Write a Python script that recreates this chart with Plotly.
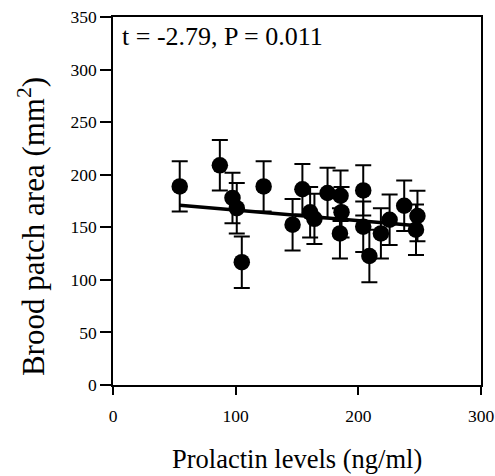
import plotly.graph_objects as go

# Data
prolactin = [54.4, 87.1, 97.4, 100.9, 105.0, 122.8, 146.4, 154.4, 160.7, 164.2, 174.9,
             185.5, 186.3, 185.0, 204.0, 204.0, 209.0, 218.4, 225.5, 237.4, 247.0, 248.2]
patch_area = [188.9, 208.9, 177.9, 168.2, 116.8, 188.9, 152.5, 186.2, 164.2, 158.0, 182.6,
              180.0, 164.4, 144.2, 185.1, 150.6, 122.7, 144.2, 157.2, 170.5, 147.7, 160.7]
patch_err = [24, 24, 24, 24, 24.5, 24, 24.5, 24, 24, 24, 24,
             24, 24, 24, 24, 24, 25, 24, 24, 24, 24, 24]
fit_x = [54.4, 248.2]
fit_y = [171.0, 151.4]
x_ticks = [0, 100, 200, 300]
y_ticks = [0, 50, 100, 150, 200, 250, 300, 350]
stat_text = "t = -2.79, P = 0.011"
x_title = "Prolactin levels (ng/ml)"
y_title = "Brood patch area (mm<sup>2</sup>)"

FONT = "Tinos"

fig = go.Figure()
fig.add_trace(go.Scatter(
    x=fit_x, y=fit_y, mode="lines",
    line=dict(color="black", width=3.5), showlegend=False, hoverinfo="skip"))
fig.add_trace(go.Scatter(
    x=prolactin, y=patch_area, mode="markers",
    marker=dict(color="black", size=16.5),
    error_y=dict(type="data", array=patch_err, visible=True,
                 color="black", thickness=2, width=8),
    showlegend=False))

fig.update_layout(
    width=495, height=476,
    margin=dict(l=113, r=14, t=17, b=91),
    paper_bgcolor="white", plot_bgcolor="white",
    font=dict(family=FONT, color="black", size=17),
    xaxis=dict(range=[0, 300], tickvals=x_ticks, ticks="outside", ticklen=8,
               tickwidth=1.5, tickcolor="black", showline=True, linecolor="black",
               linewidth=1.5, mirror=True, showgrid=False, zeroline=False,
               automargin=False, ticklabeloverflow="allow",
               tickfont=dict(size=17.5, family=FONT), ticklabelstandoff=6),
    yaxis=dict(range=[0, 350], tickvals=y_ticks, ticks="outside", ticklen=11,
               tickwidth=1.5, tickcolor="black", showline=True, linecolor="black",
               linewidth=1.5, mirror=True, showgrid=False, zeroline=False,
               automargin=False, ticklabeloverflow="allow",
               tickfont=dict(size=17.5, family=FONT)),
    annotations=[
        dict(text=stat_text, xref="paper", yref="paper", x=0.018, y=0.946,
             xanchor="left", yanchor="middle", showarrow=False,
             font=dict(size=26, family=FONT)),
        dict(text=x_title, xref="paper", yref="paper", x=0.5, y=-0.2,
             xanchor="center", yanchor="middle", showarrow=False,
             font=dict(size=26.5, family=FONT)),
        dict(text=y_title, xref="paper", yref="paper", x=-0.222, y=0.43,
             xanchor="center", yanchor="middle", showarrow=False, textangle=-90,
             font=dict(size=31, family=FONT)),
    ],
)

fig.write_html("out.html")
